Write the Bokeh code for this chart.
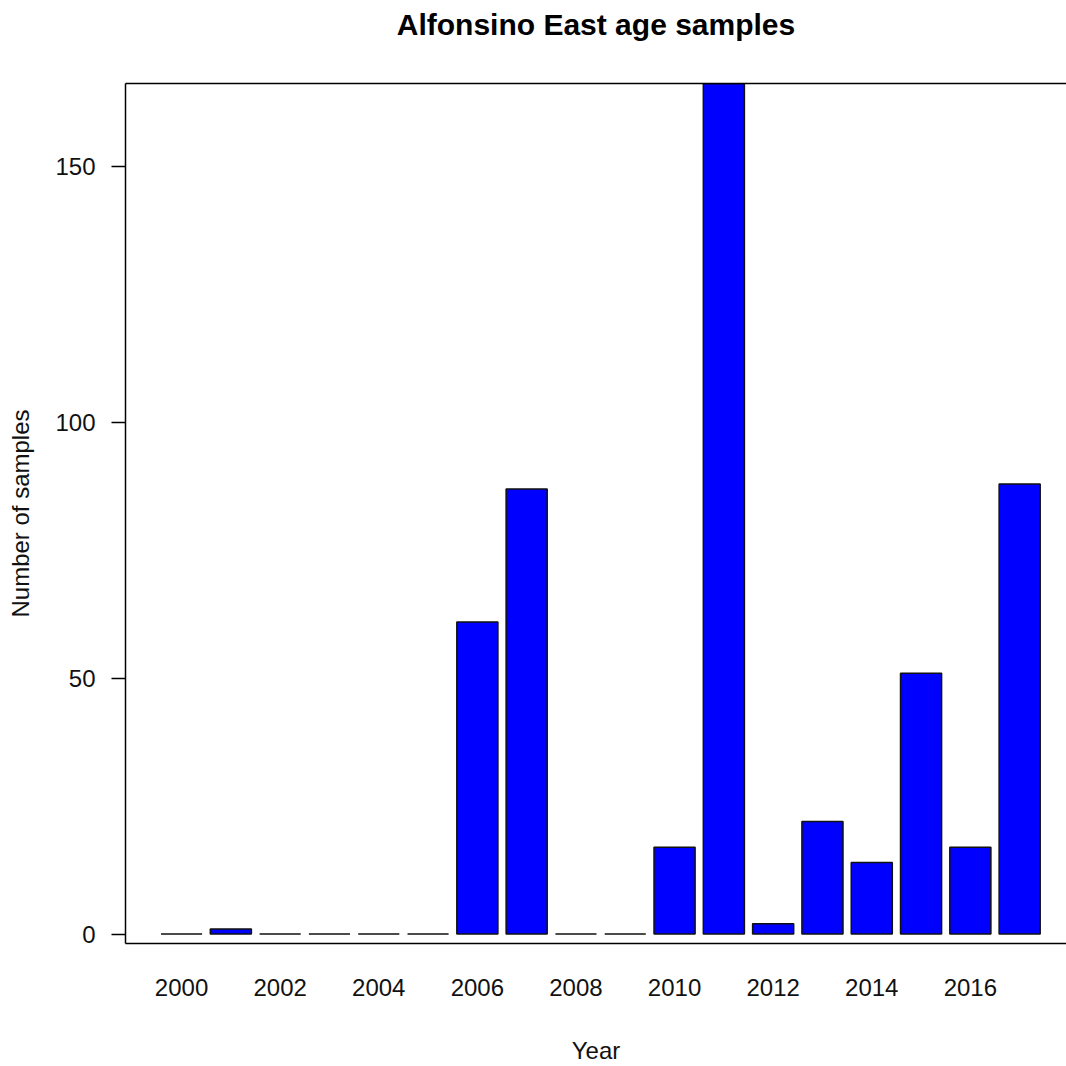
from bokeh.plotting import figure
from bokeh.models import Range1d, FixedTicker, LinearAxis, ColumnDataSource
from bokeh.embed import file_html
from bokeh.resources import INLINE

# ---- data ----
years = list(range(2000, 2018))
samples = [0, 1, 0, 0, 0, 0, 61, 87, 0, 0, 17, 170, 2, 22, 14, 51, 17, 88]
x_tick_years = [2000, 2002, 2004, 2006, 2008, 2010, 2012, 2014, 2016]
y_ticks = [0, 50, 100, 150]
title_text = "Alfonsino East age samples"
x_label = "Year"
y_label = "Number of samples"

FONT = "Liberation Sans"

src = ColumnDataSource(dict(year=years, n=samples))

p = figure(width=1066, height=1066,
           x_range=Range1d(1998.863, 2017.95),
           y_range=Range1d(-1.84, 166.3),
           output_backend="svg", toolbar_location=None,
           min_border_left=125, min_border_right=0,
           min_border_top=83, min_border_bottom=123,
           x_axis_location=None, y_axis_location=None)
p.outline_line_color = None
p.xgrid.visible = False
p.ygrid.visible = False
p.background_fill_color = "white"
p.border_fill_color = "white"

p.vbar(x="year", top="n", bottom=0, width=0.8333, source=src,
       fill_color="#0000FF", line_color="#111111", line_width=1.5)

# left axis
yax = LinearAxis(ticker=FixedTicker(ticks=y_ticks))
yax.axis_line_color = "black"
yax.axis_line_width = 1.5
yax.major_tick_line_color = "black"
yax.major_tick_line_width = 1.5
yax.major_tick_out = 14
yax.major_tick_in = 0
yax.minor_tick_line_color = None
yax.major_label_orientation = "horizontal"
yax.major_label_text_font = FONT
yax.major_label_text_font_size = "24px"
yax.major_label_text_color = "#111111"
yax.major_label_standoff = 16
yax.axis_label = y_label
yax.axis_label_text_font = FONT
yax.axis_label_text_font_size = "24px"
yax.axis_label_text_font_style = "normal"
yax.axis_label_text_color = "#111111"
yax.axis_label_standoff = 18
p.add_layout(yax, "left")

# bottom axis (box bottom edge + year labels)
xax = LinearAxis(ticker=FixedTicker(ticks=x_tick_years))
xax.axis_line_color = "black"
xax.axis_line_width = 1.5
xax.major_tick_line_color = None
xax.major_tick_out = 0
xax.major_tick_in = 0
xax.minor_tick_line_color = None
xax.major_label_text_font = FONT
xax.major_label_text_font_size = "24px"
xax.major_label_text_color = "#111111"
xax.major_label_standoff = 35
xax.axis_label = x_label
xax.axis_label_text_font = FONT
xax.axis_label_text_font_size = "24px"
xax.axis_label_text_font_style = "normal"
xax.axis_label_text_color = "#111111"
xax.axis_label_standoff = 38
p.add_layout(xax, "below")

# top edge of box, carrying the title as its label
tax = LinearAxis(ticker=FixedTicker(ticks=[]))
tax.axis_line_color = "black"
tax.axis_line_width = 1.5
tax.major_tick_line_color = None
tax.minor_tick_line_color = None
tax.major_tick_out = 0
tax.major_tick_in = 0
tax.major_label_standoff = 0
tax.axis_label = title_text
tax.axis_label_text_font = FONT
tax.axis_label_text_font_size = "30px"
tax.axis_label_text_font_style = "bold"
tax.axis_label_text_color = "black"
tax.axis_label_standoff = 43
p.add_layout(tax, "above")

open("out.html", "w").write(file_html(p, INLINE))
